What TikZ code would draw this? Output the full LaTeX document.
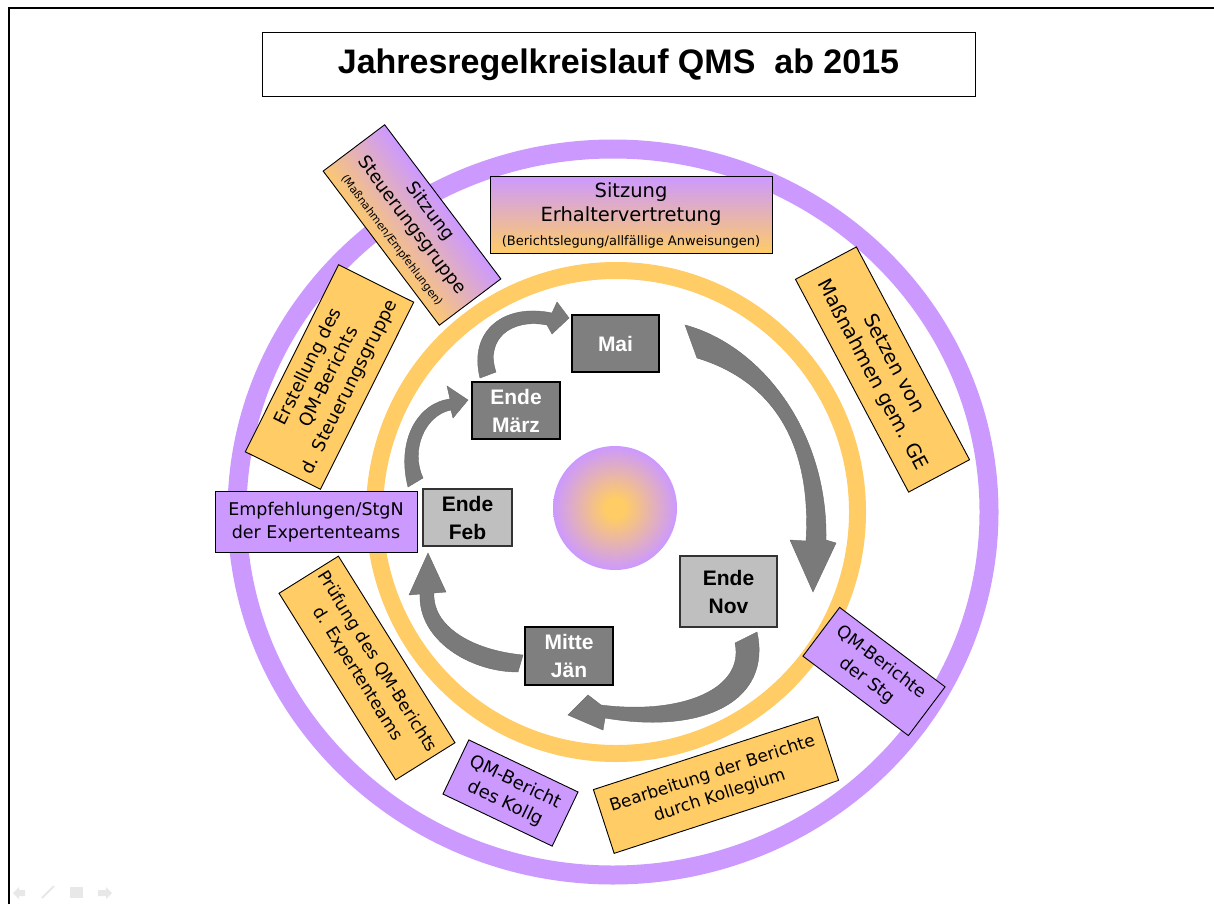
\documentclass[tikz,border=0pt]{standalone}
\usepackage{fontspec}
\setmainfont{DejaVu Sans}
\newfontfamily\arialf{Liberation Sans}
\definecolor{qpurple}{RGB}{204,153,255}
\definecolor{qorange}{RGB}{255,204,102}
\definecolor{qdgray}{RGB}{127,127,127}
\definecolor{qlgray}{RGB}{191,191,191}
\definecolor{qarrow}{RGB}{122,122,122}
\definecolor{qicon}{RGB}{232,232,232}
\pgfdeclareradialshading{centerglow}{\pgfpoint{0bp}{0bp}}{color(0bp)=(qorange); color(4bp)=(qorange); color(25bp)=(qpurple); color(50bp)=(qpurple)}
\pgfdeclareverticalshading{steugrad}{100bp}{color(0bp)=(qorange); color(38bp)=(qorange); color(60bp)=(qpurple); color(100bp)=(qpurple)}
\tikzset{
  box/.style={draw=black, line width=0.9pt, inner sep=0pt, align=center, text=black,
    font=\fontsize{18}{23}\selectfont},
  obox/.style={box, fill=qorange},
  pbox/.style={box, fill=qpurple},
  gradbox/.style={box, top color=qpurple, bottom color=qorange},
  darkbox/.style={draw=black, line width=1.6pt, fill=qdgray, text=white, inner sep=0pt,
    align=center, font=\arialf\bfseries\fontsize{21}{28}\selectfont},
  lightbox/.style={draw=black!80, line width=1.3pt, fill=qlgray, text=black, inner sep=0pt,
    align=center, font=\arialf\bfseries\fontsize{21}{28}\selectfont},
  blockarrow/.style={fill=qarrow, draw=qarrow!85!black, line width=0.4pt}
}
\begin{document}
\begin{tikzpicture}[x=1pt,y=-1pt]
\useasboundingbox (0,0) rectangle (1214,904);
\fill[white] (0,0) rectangle (1214,904);
% slide frame
\draw[line width=2pt] (9,904) -- (9,8) -- (1214,8);
% faint slide icons
\fill[qicon] (13,893) -- (19,887) -- (19,890) -- (25,890) -- (25,896) -- (19,896) -- (19,899) -- cycle;
\draw[qicon, line width=2pt] (42,898) -- (54,886);
\fill[qicon] (70,887) rectangle (83,898);
\fill[qicon] (112,893) -- (106,887) -- (106,890) -- (98,890) -- (98,896) -- (106,896) -- (106,899) -- cycle;
% title
\node[draw=black, line width=1pt, minimum width=713pt, minimum height=64pt, inner sep=0pt,
  font=\arialf\bfseries\fontsize{34}{38}\selectfont] (title) at (618.5,65) {Jahresregelkreislauf QMS\ \ ab 2015};
% rings
\draw[qpurple, line width=19pt] (613,512) ellipse [x radius=376pt, y radius=363pt];
\draw[qorange, line width=17pt] (616,512) circle [radius=241.5pt];
% centre disc
\node[circle, minimum size=124pt, inner sep=0pt, shading=centerglow] (core) at (615,508) {};
% outer boxes
\node[box, shading=steugrad, shading angle=-53, minimum width=193pt, minimum height=77pt, rotate=-53] (steu) at (412,225)
  {Sitzung\\Steuerungsgruppe\\{\fontsize{11}{13}\selectfont(Maßnahmen/Empfehlungen)}};
\node[gradbox, minimum width=282pt, minimum height=77pt, font=\fontsize{19.5}{24}\selectfont] (erh) at (631,215)
  {Sitzung\\Erhaltervertretung\\{\fontsize{13}{15}\selectfont(Berichtslegung/allfällige Anweisungen)}};
\node[obox, minimum width=241pt, minimum height=69pt, rotate=-62, font=\fontsize{19.5}{24}\selectfont] (setzen) at (882.5,369.5)
  {Setzen von\\Maßnahmen gem. GE};
\node[obox, minimum width=209pt, minimum height=84pt, rotate=63.5] (erst) at (329.5,377)
  {Erstellung des\\QM-Berichts\\d. Steuerungsgruppe};
\node[pbox, minimum width=202pt, minimum height=61pt, font=\fontsize{17.5}{23}\selectfont] (empf) at (316,522)
  {Empfehlungen/StgN\\der Expertenteams};
\node[obox, minimum width=220pt, minimum height=70pt, rotate=-58, font=\fontsize{17}{23}\selectfont] (pruef) at (367,668)
  {Prüfung des QM-Berichts\\d. Expertenteams};
\node[pbox, minimum width=121pt, minimum height=60pt, rotate=-25.5] (kollg) at (510.5,793)
  {QM-Bericht\\des Kollg};
\node[obox, minimum width=236pt, minimum height=67pt, rotate=18, font=\fontsize{17}{23}\selectfont] (bearb) at (716,785)
  {Bearbeitung der Berichte\\durch Kollegium};
\node[pbox, minimum width=132pt, minimum height=61pt, rotate=-37, font=\fontsize{17.5}{23}\selectfont] (stg) at (874,671.5)
  {QM-Berichte\\der Stg};
% month boxes
\node[darkbox, minimum width=87pt, minimum height=57pt] (mai) at (615.5,343.5) {Mai};
\node[darkbox, minimum width=88pt, minimum height=57pt] (maerz) at (516,410.5) {Ende\\März};
\node[lightbox, minimum width=89pt, minimum height=57pt] (feb) at (467.5,517.5) {Ende\\Feb};
\node[lightbox, minimum width=97pt, minimum height=71pt] (nov) at (728.5,591.5) {Ende\\Nov};
\node[darkbox, minimum width=88pt, minimum height=58pt] (jaen) at (569,656) {Mitte\\Jän};
% curved block arrows
% Mai -> Ende Nov
\path[blockarrow] (685,325) .. controls (760,345) and (828,430) .. (826,540)
  -- (836,543) -- (813,592) -- (790,540) -- (806,541)
  .. controls (812,440) and (770,380) .. (697,358) -- cycle;
% Ende Nov -> Mitte Jaen
\path[blockarrow] (757,632) .. controls (772,700) and (705,735) .. (605,718)
  -- (603,730) -- (568,715) -- (588,695) -- (601,705)
  .. controls (680,715) and (745,690) .. (735,643) -- cycle;
% Mitte Jaen -> Ende Feb
\path[blockarrow] (523,655) .. controls (470,650) and (432,625) .. (434,593)
  -- (446,592) -- (428,553) -- (409,595) -- (420,594)
  .. controls (418,640) and (470,672) .. (518,672) -- cycle;
% Ende Feb -> Ende Maerz
\path[blockarrow] (408,487) .. controls (396,440) and (418,403) .. (450,399)
  -- (447,386) -- (468,400) -- (453,418) -- (451,410)
  .. controls (425,415) and (410,450) .. (423,478) -- cycle;
% Ende Maerz -> Mai
\path[blockarrow] (480,378) .. controls (468,330) and (505,303) .. (552,313)
  -- (557,302) -- (569,318) -- (552,334) -- (547,325)
  .. controls (510,318) and (485,340) .. (496,372) -- cycle;
\end{tikzpicture}
\end{document}
